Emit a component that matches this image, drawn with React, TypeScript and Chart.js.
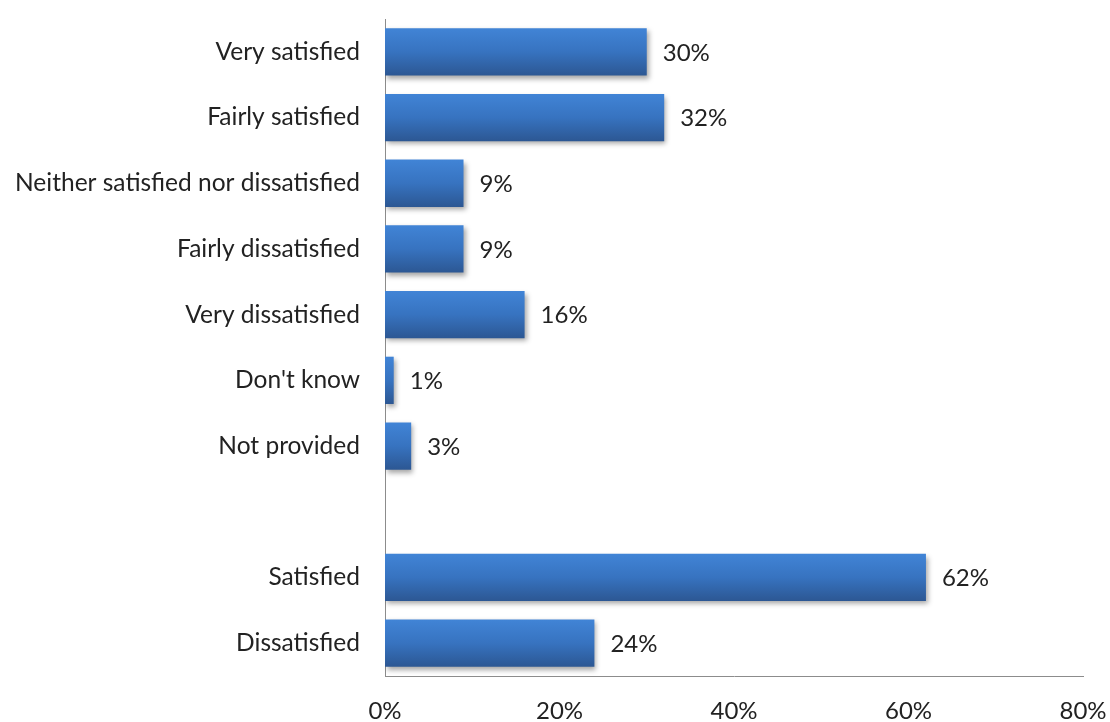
import React, { useEffect, useRef } from "react";
import { Chart, registerables } from "chart.js";

Chart.register(...registerables);

const categories = [
  "Very satisfied",
  "Fairly satisfied",
  "Neither satisfied nor dissatisfied",
  "Fairly dissatisfied",
  "Very dissatisfied",
  "Don't know",
  "Not provided",
  "",
  "Satisfied",
  "Dissatisfied",
];
const values: (number | null)[] = [30, 32, 9, 9, 16, 1, 3, null, 62, 24];
const xTicks = [0, 20, 40, 60, 80];

const FONT = "Lato, 'Open Sans', sans-serif";

const shadowPlugin = {
  id: "barShadow",
  beforeDatasetsDraw(chart: any) {
    const ctx = chart.ctx;
    ctx.save();
    ctx.shadowColor = "rgba(0,0,0,0.35)";
    ctx.shadowBlur = 5;
    ctx.shadowOffsetX = 2;
    ctx.shadowOffsetY = 3;
  },
  afterDatasetsDraw(chart: any) {
    const ctx = chart.ctx;
    ctx.restore();
    const meta = chart.getDatasetMeta(0);
    ctx.save();
    ctx.font = `24px ${FONT}`;
    ctx.fillStyle = "#222";
    ctx.textAlign = "left";
    ctx.textBaseline = "middle";
    meta.data.forEach((el: any, i: number) => {
      const v = values[i];
      if (v === null || v === undefined) return;
      ctx.fillText(`${v}%`, el.x + 16, el.y + 1);
    });
    ctx.restore();
  },
};

export default function App() {
  const ref = useRef<HTMLCanvasElement>(null);
  useEffect(() => {
    const canvas = ref.current!;
    const chart = new Chart(canvas, {
      type: "bar",
      data: {
        labels: categories,
        datasets: [
          {
            data: values as any,
            categoryPercentage: 0.72,
            barPercentage: 1,
            borderWidth: 0,
            backgroundColor: (c: any) => {
              const ch = c.chart;
              const ys = ch.scales && ch.scales.y;
              if (!ys || !ch.chartArea) return "#3874c2";
              const center = ys.getPixelForValue(c.dataIndex);
              const half = ((ys.bottom - ys.top) / categories.length) * 0.72 / 2;
              const g = ch.ctx.createLinearGradient(0, center - half, 0, center + half);
              g.addColorStop(0, "#4184d6");
              g.addColorStop(0.5, "#3773c0");
              g.addColorStop(1, "#2c5793");
              return g;
            },
          },
        ],
      },
      options: {
        indexAxis: "y",
        animation: false,
        responsive: false,
        layout: { padding: { top: 19, right: 27, bottom: 0, left: 0 } },
        plugins: { legend: { display: false }, tooltip: { enabled: false } },
        scales: {
          y: {
            grid: { display: false, drawTicks: false },
            border: { display: true, color: "#8c8c8c", width: 1 },
            ticks: {
              color: "#222",
              font: { family: FONT, size: 24.5 },
              padding: 25,
            },
            afterFit: (s: any) => {
              s.width = 385;
              s.paddingTop = 0;
              s.paddingBottom = 0;
            },
          },
          x: {
            min: 0,
            max: 80,
            grid: { display: false, drawTicks: false },
            border: { display: true, color: "#8c8c8c", width: 1 },
            afterBuildTicks: (s: any) => {
              s.ticks = xTicks.map((v) => ({ value: v }));
            },
            ticks: {
              color: "#222",
              font: { family: FONT, size: 24 },
              padding: 21,
              maxRotation: 0,
              callback: (v: any) => `${v}%`,
            },
            afterFit: (s: any) => {
              s.height = 46;
              s.paddingLeft = 0;
              s.paddingRight = 0;
            },
          },
        },
      },
      plugins: [shadowPlugin],
    });
    return () => chart.destroy();
  }, []);
  return (
    <div style={{ position: "fixed", left: 0, top: 0, width: 1110, height: 722, background: "#fff" }}>
      <canvas ref={ref} width={1110} height={722} style={{ width: 1110, height: 722 }} />
    </div>
  );
}
